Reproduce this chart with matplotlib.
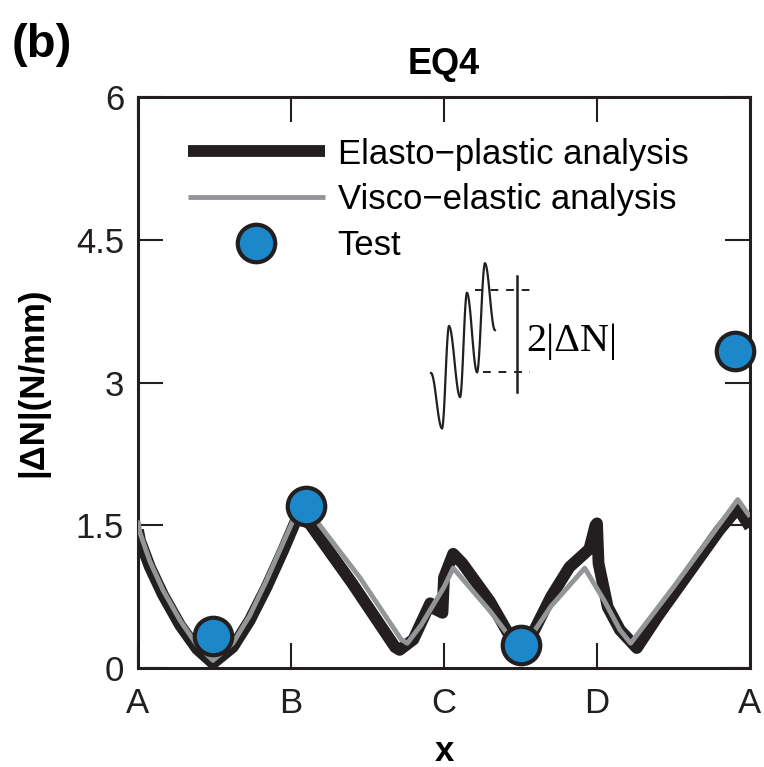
import matplotlib.pyplot as plt
import numpy as np

plt.rcParams['font.family'] = ['Liberation Sans', 'DejaVu Sans']

# path positions (A-B-C-D-A mapped to 0..4)
tick_pos = [0, 1, 2, 3, 4]
tick_labels = ['A', 'B', 'C', 'D', 'A']
y_ticks = [0, 1.5, 3, 4.5, 6]
y_tick_labels = ['0', '1.5', '3', '4.5', '6']

# elasto-plastic analysis
ep_x = [0.00, 0.013, 0.078, 0.163, 0.275, 0.386, 0.49, 0.62, 0.73, 0.84, 0.95, 1.04,
        1.12, 1.40, 1.68, 1.71, 1.80, 1.91, 1.94, 1.99, 2.00, 2.06, 2.12, 2.30,
        2.45, 2.50, 2.56, 2.70, 2.82, 2.95, 2.99, 3.00, 3.01, 3.07, 3.15, 3.26, 3.40,
        3.60, 3.80, 3.92, 3.96, 4.00]
ep_y = [1.45, 1.34, 1.06, 0.77, 0.45, 0.20, 0.05, 0.22, 0.50, 0.85, 1.24, 1.58,
        1.52, 0.89, 0.22, 0.19, 0.30, 0.68, 0.62, 0.58, 0.95, 1.20, 1.10, 0.70,
        0.28, 0.19, 0.30, 0.75, 1.06, 1.25, 1.50, 1.52, 1.10, 0.64, 0.40, 0.21, 0.55,
        1.00, 1.45, 1.68, 1.58, 1.48]

# visco-elastic analysis
ve_x = [0.00, 0.013, 0.078, 0.163, 0.275, 0.386, 0.49, 0.62, 0.73, 0.84, 0.95, 1.06,
        1.14, 1.45, 1.72, 1.76, 1.85, 2.00, 2.06, 2.30, 2.48, 2.52, 2.70, 2.92, 3.05,
        3.15, 3.22, 3.50, 3.92, 4.00]
ve_y = [1.55, 1.42, 1.12, 0.82, 0.50, 0.24, 0.08, 0.26, 0.55, 0.92, 1.32, 1.72,
        1.60, 0.95, 0.30, 0.26, 0.45, 0.85, 1.05, 0.60, 0.22, 0.22, 0.65, 1.05, 0.70,
        0.40, 0.26, 0.85, 1.77, 1.59]

# test
test_x = [0.49, 1.10, 2.50, 3.90]
test_y = [0.34, 1.70, 0.24, 3.33]

# schematic inset: extrema of the sketched response
sk_x = [1.915, 1.987, 2.033, 2.105, 2.150, 2.216, 2.268, 2.333]
sk_y = [3.10, 2.52, 3.59, 2.85, 3.94, 3.11, 4.25, 3.55]

W, H = 764, 767
fig = plt.figure(figsize=(W / 100, H / 100), dpi=100)
ax = fig.add_axes([138 / W, 1 - 668 / H, 612 / W, 571 / H])

ax.plot(ep_x, ep_y, color='#231f20', lw=8.5, solid_joinstyle='round',
        solid_capstyle='butt', label='Elasto\u2212plastic analysis', zorder=2)
ax.plot(ve_x, ve_y, color='#939598', lw=3.5, solid_joinstyle='round',
        solid_capstyle='butt', label='Visco\u2212elastic analysis', zorder=3)
ax.plot(test_x, test_y, 'o', ms=27, mfc='#1c87c9', mec='#231f20', mew=3,
        label='Test', zorder=4, clip_on=False)

# sketch: half-cosine strokes between extrema
for i in range(len(sk_x) - 1):
    t = np.linspace(0, np.pi, 20)
    xs = sk_x[i] + (sk_x[i + 1] - sk_x[i]) * t / np.pi
    ys = sk_y[i] + (sk_y[i + 1] - sk_y[i]) * (1 - np.cos(t)) / 2
    ax.plot(xs, ys, color='#231f20', lw=1.6, zorder=2)
ax.plot([2.203, 2.601], [3.97, 3.97], color='#231f20', lw=1.4, ls=(0, (4, 4)))
ax.plot([2.255, 2.562], [3.11, 3.11], color='#231f20', lw=1.4, ls=(0, (4, 4)))
ax.plot([2.477, 2.477], [2.90, 4.12], color='#231f20', lw=1.8)
ax.text(2.54, 3.43, '2|\u0394N|', family=['Liberation Serif', 'DejaVu Serif'],
        fontsize=29, va='center', ha='left')

ax.set_xlim(0, 4)
ax.set_ylim(0, 6)
ax.set_xticks(tick_pos)
ax.set_xticklabels(tick_labels)
ax.set_yticks(y_ticks)
ax.set_yticklabels(y_tick_labels)
ax.tick_params(direction='in', length=18, width=1.5, top=True, right=True,
               labelsize=25, colors='#231f20')
ax.tick_params(axis='x', pad=14)
ax.tick_params(axis='y', pad=10)
for s in ax.spines.values():
    s.set_linewidth(2.2)
    s.set_color('#231f20')

ax.set_xlabel('x', fontsize=25, fontweight='bold')
ax.xaxis.set_label_coords(0.5, -0.118)
ax.set_ylabel('|\u0394N|(N/mm)', fontsize=25, fontweight='bold')
ax.yaxis.set_label_coords(-0.145, 0.5)
fig.text(444 / W, 1 - 65 / H, 'EQ4', fontsize=26, fontweight='bold',
         ha='center', va='center')
fig.text(12 / W, 1 - 45 / H, '(b)', fontsize=34, fontweight='bold', va='center')

ax.legend(loc='upper left', bbox_to_anchor=(0.081, 0.929), frameon=False,
          fontsize=25, handlelength=3.95, handletextpad=0.37, labelspacing=0.37,
          borderpad=0, borderaxespad=0)

fig.savefig('out.png', dpi=100)
